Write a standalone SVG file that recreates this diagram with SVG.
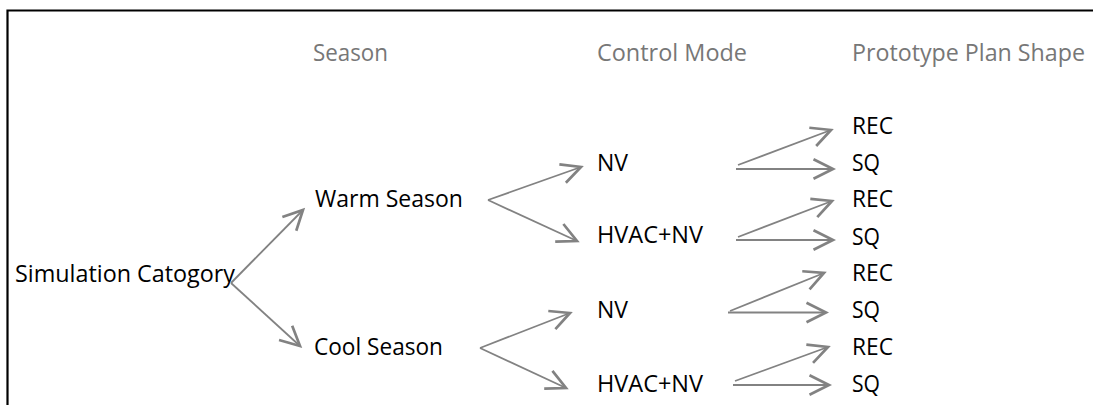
<svg xmlns="http://www.w3.org/2000/svg" width="1095" height="405" viewBox="0 0 1095 405">
<style>
.t{font-family:"Open Sans","Liberation Sans",sans-serif;font-size:23px;fill:#000}
.h{font-family:"Open Sans","Liberation Sans",sans-serif;font-size:23px;fill:#777}
.c{fill:none;stroke:#828282;stroke-width:1.8;marker-end:url(#ah)}
</style>
<defs>
<marker id="ah" markerUnits="userSpaceOnUse" markerWidth="30" markerHeight="30" viewBox="-16 -10 20 20" refX="0" refY="0" orient="auto">
<path d="M-13,-6.5 L0,0 L-13,6.5" fill="none" stroke="#828282" stroke-width="1.8"/>
</marker>
</defs>
<rect width="1095" height="405" fill="#fff"/>
<path d="M7.5,405 V10.5 H1093" fill="none" stroke="#000" stroke-width="2.2"/>
<g id="headers">
<text class="h" x="313" y="61" textLength="75" lengthAdjust="spacingAndGlyphs">Season</text>
<text class="h" x="597" y="61" textLength="150" lengthAdjust="spacingAndGlyphs">Control Mode</text>
<text class="h" x="852" y="61" textLength="233" lengthAdjust="spacingAndGlyphs">Prototype Plan Shape</text>
</g>
<g id="root"><text class="t" x="15" y="282" textLength="220" lengthAdjust="spacingAndGlyphs">Simulation Catogory</text></g>
<g id="warm"><text class="t" x="315" y="207" textLength="148" lengthAdjust="spacingAndGlyphs">Warm Season</text></g>
<g id="cool"><text class="t" x="314" y="355" textLength="129" lengthAdjust="spacingAndGlyphs">Cool Season</text></g>
<g id="nv1"><text class="t" x="597" y="171" textLength="31" lengthAdjust="spacingAndGlyphs">NV</text></g>
<g id="hvac1"><text class="t" x="597" y="243" textLength="106" lengthAdjust="spacingAndGlyphs">HVAC+NV</text></g>
<g id="nv2"><text class="t" x="597" y="318" textLength="31" lengthAdjust="spacingAndGlyphs">NV</text></g>
<g id="hvac2"><text class="t" x="597" y="392" textLength="106" lengthAdjust="spacingAndGlyphs">HVAC+NV</text></g>
<g id="rec1"><text class="t" x="852" y="134" textLength="41" lengthAdjust="spacingAndGlyphs">REC</text></g>
<g id="sq1"><text class="t" x="852" y="171" textLength="28" lengthAdjust="spacingAndGlyphs">SQ</text></g>
<g id="rec2"><text class="t" x="852" y="207" textLength="41" lengthAdjust="spacingAndGlyphs">REC</text></g>
<g id="sq2"><text class="t" x="852" y="245" textLength="28" lengthAdjust="spacingAndGlyphs">SQ</text></g>
<g id="rec3"><text class="t" x="852" y="281" textLength="41" lengthAdjust="spacingAndGlyphs">REC</text></g>
<g id="sq3"><text class="t" x="852" y="318" textLength="28" lengthAdjust="spacingAndGlyphs">SQ</text></g>
<g id="rec4"><text class="t" x="852" y="355" textLength="41" lengthAdjust="spacingAndGlyphs">REC</text></g>
<g id="sq4"><text class="t" x="852" y="392" textLength="28" lengthAdjust="spacingAndGlyphs">SQ</text></g>
<g id="connectors">
<line class="c" x1="231" y1="283" x2="303" y2="210"/>
<line class="c" x1="231" y1="283" x2="300" y2="346"/>
<line class="c" x1="488" y1="200" x2="581" y2="167"/>
<line class="c" x1="488" y1="200" x2="577" y2="241"/>
<line class="c" x1="480" y1="348" x2="570" y2="313"/>
<line class="c" x1="480" y1="348" x2="566" y2="388"/>
<line class="c" x1="738" y1="165" x2="831" y2="130"/>
<line class="c" x1="736" y1="169" x2="833" y2="169"/>
<line class="c" x1="738" y1="237" x2="832" y2="201"/>
<line class="c" x1="736" y1="240" x2="833" y2="240"/>
<line class="c" x1="730" y1="311" x2="824" y2="273"/>
<line class="c" x1="728" y1="312.5" x2="826" y2="312.5"/>
<line class="c" x1="735" y1="381" x2="828" y2="347"/>
<line class="c" x1="733" y1="385" x2="829" y2="385"/>
</g>
</svg>
